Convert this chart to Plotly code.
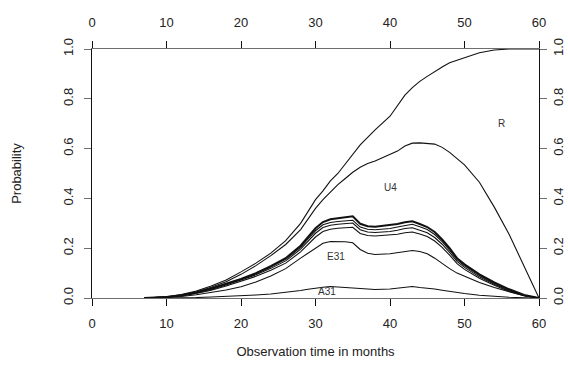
import plotly.graph_objects as go

months = [7, 10, 12, 14, 16, 18, 20, 22, 24, 26, 28, 29, 30, 31, 32, 33, 34, 35, 36, 37, 38,
          40, 41, 42, 43, 44, 45, 46, 47, 48, 49, 50, 52, 54, 56, 58, 60]

p_R = [0, 0.005, 0.014, 0.028, 0.048, 0.072, 0.105, 0.14, 0.18, 0.23, 0.30, 0.35, 0.395, 0.43,
       0.47, 0.50, 0.54, 0.58, 0.615, 0.645, 0.675, 0.73, 0.775, 0.815, 0.845, 0.87, 0.89, 0.91,
       0.928, 0.945, 0.956, 0.965, 0.985, 0.996, 1.0, 1.0, 1.0]
p_U4 = [0, 0.004, 0.012, 0.025, 0.043, 0.065, 0.095, 0.13, 0.17, 0.215, 0.275, 0.32, 0.36, 0.395,
        0.425, 0.455, 0.48, 0.505, 0.525, 0.54, 0.55, 0.575, 0.59, 0.61, 0.622, 0.623, 0.622,
        0.618, 0.605, 0.585, 0.56, 0.535, 0.465, 0.365, 0.255, 0.13, 0]
p_C1 = [0, 0.004, 0.011, 0.022, 0.038, 0.057, 0.077, 0.10, 0.128, 0.16, 0.21, 0.245, 0.28, 0.305,
        0.316, 0.32, 0.323, 0.328, 0.298, 0.288, 0.286, 0.292, 0.297, 0.304, 0.308, 0.297, 0.285,
        0.265, 0.235, 0.20, 0.16, 0.135, 0.095, 0.063, 0.035, 0.012, 0]
p_C2 = [0, 0.003, 0.010, 0.021, 0.036, 0.054, 0.074, 0.097, 0.124, 0.155, 0.203, 0.237, 0.27, 0.294,
        0.303, 0.307, 0.309, 0.312, 0.285, 0.276, 0.274, 0.279, 0.285, 0.292, 0.296, 0.286, 0.275,
        0.255, 0.226, 0.192, 0.154, 0.129, 0.09, 0.059, 0.032, 0.011, 0]
p_C3 = [0, 0.003, 0.009, 0.020, 0.034, 0.052, 0.071, 0.093, 0.119, 0.149, 0.196, 0.228, 0.26, 0.283,
        0.292, 0.296, 0.298, 0.301, 0.274, 0.265, 0.263, 0.267, 0.272, 0.279, 0.282, 0.273, 0.262,
        0.243, 0.216, 0.183, 0.147, 0.123, 0.085, 0.055, 0.029, 0.010, 0]
p_C4 = [0, 0.003, 0.008, 0.018, 0.031, 0.048, 0.066, 0.087, 0.111, 0.14, 0.185, 0.215, 0.245, 0.267,
        0.276, 0.28, 0.282, 0.284, 0.259, 0.251, 0.249, 0.252, 0.256, 0.262, 0.265, 0.257, 0.247,
        0.229, 0.203, 0.172, 0.138, 0.115, 0.079, 0.051, 0.026, 0.009, 0]
p_E31 = [0, 0.002, 0.006, 0.013, 0.021, 0.032, 0.045, 0.064, 0.088, 0.118, 0.16, 0.18, 0.20, 0.22,
         0.227, 0.228, 0.226, 0.222, 0.195, 0.18, 0.175, 0.178, 0.183, 0.188, 0.191, 0.187, 0.178,
         0.16, 0.138, 0.118, 0.1, 0.088, 0.062, 0.042, 0.024, 0.009, 0]
p_A31 = [0, 0, 0.001, 0.002, 0.004, 0.006, 0.009, 0.012, 0.016, 0.022, 0.03, 0.035, 0.04, 0.043,
         0.046, 0.044, 0.042, 0.04, 0.037, 0.035, 0.034, 0.036, 0.039, 0.043, 0.046, 0.042, 0.04,
         0.036, 0.031, 0.026, 0.022, 0.018, 0.011, 0.006, 0.003, 0.001, 0]

series = [("R", p_R, 1.1), ("U4", p_U4, 1.1), ("C1", p_C1, 2.0), ("C2", p_C2, 1.1),
          ("C3", p_C3, 1.1), ("C4", p_C4, 1.1), ("E31", p_E31, 1.1), ("A31", p_A31, 1.1)]

state_labels = ["R", "U4", "E31", "A31"]
label_x = [55, 40.1, 32.8, 31.5]
label_y = [0.70, 0.445, 0.166, 0.027]

x_ticks = [0, 10, 20, 30, 40, 50, 60]
y_ticks = [0.0, 0.2, 0.4, 0.6, 0.8, 1.0]
y_ticktext = ["0.0", "0.2", "0.4", "0.6", "0.8", "1.0"]

FONT = "Liberation Sans, Arial, sans-serif"
HGRAY = "#6e6e6e"

fig = go.Figure()
for name, vals, w in series:
    fig.add_trace(go.Scatter(x=months, y=vals, mode="lines", name=name,
                             line=dict(color="#111111", width=w), showlegend=False,
                             hoverinfo="skip"))
# invisible trace on the top/right axes so they are drawn
fig.add_trace(go.Scatter(x=[0, 60], y=[0, 1], xaxis="x2", yaxis="y2", mode="lines",
                         line=dict(width=0), showlegend=False, hoverinfo="skip"))

for t, lx, ly in zip(state_labels, label_x, label_y):
    fig.add_annotation(x=lx, y=ly, text=t, showarrow=False,
                       font=dict(size=10, color="#333333", family=FONT))

common_x = dict(range=[0, 60], tickvals=x_ticks, ticks="outside", ticklen=7, tickwidth=1,
                tickcolor="#111111", showline=True, linecolor=HGRAY, linewidth=1,
                showgrid=False, zeroline=False, automargin=False,
                tickfont=dict(size=13, color="#222222", family=FONT))
common_y = dict(range=[0, 1], tickvals=y_ticks, ticktext=y_ticktext, ticks="outside", ticklen=7,
                tickwidth=1, tickcolor=HGRAY, showline=True, linecolor="#111111", linewidth=1,
                showgrid=False, zeroline=False, tickangle=-90, automargin=False,
                tickfont=dict(size=13, color="#222222", family=FONT))

fig.update_layout(
    width=568, height=372,
    margin=dict(l=92, r=29, t=49, b=74, autoexpand=False),
    paper_bgcolor="white", plot_bgcolor="white",
    font=dict(family=FONT, size=13, color="#222222"),
    xaxis=dict(**common_x, side="bottom", ticklabelstandoff=6,
               title=dict(text="Observation time in months", standoff=17,
                          font=dict(size=13, color="#222222", family=FONT))),
    xaxis2=dict(**common_x, side="top", overlaying="x", ticklabelstandoff=9),
    yaxis=dict(**common_y, side="left", ticklabelstandoff=6,
               title=dict(text="Probability", standoff=36,
                          font=dict(size=13, color="#222222", family=FONT))),
    yaxis2=dict(**common_y, side="right", overlaying="y", ticklabelstandoff=0),
)

fig.write_html("out.html")
